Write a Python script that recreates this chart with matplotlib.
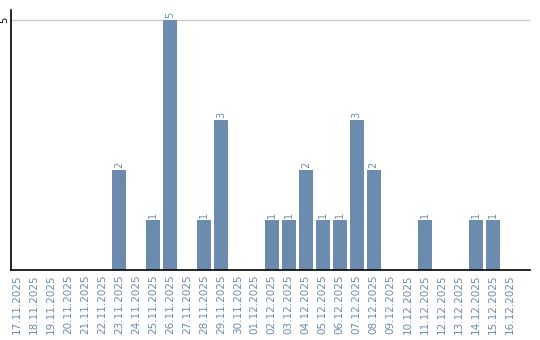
import matplotlib
matplotlib.use('Agg')
import matplotlib.pyplot as plt

dates = ['17.11.2025', '18.11.2025', '19.11.2025', '20.11.2025', '21.11.2025',
         '22.11.2025', '23.11.2025', '24.11.2025', '25.11.2025', '26.11.2025',
         '27.11.2025', '28.11.2025', '29.11.2025', '30.11.2025', '01.12.2025',
         '02.12.2025', '03.12.2025', '04.12.2025', '05.12.2025', '06.12.2025',
         '07.12.2025', '08.12.2025', '09.12.2025', '10.12.2025', '11.12.2025',
         '12.12.2025', '13.12.2025', '14.12.2025', '15.12.2025', '16.12.2025']
counts = [0, 0, 0, 0, 0, 0, 2, 0, 1, 5, 0, 1, 3, 0, 0,
          1, 1, 2, 1, 1, 3, 2, 0, 0, 1, 0, 0, 1, 1, 0]

bar_color = '#6b8cae'

fig = plt.figure(figsize=(5.4, 3.4), dpi=100)
ax = fig.add_axes([0.0204, 0.2059, 0.9611, 0.7647])

x = list(range(len(dates)))
ax.bar(x, counts, width=0.82, color=bar_color, zorder=2)

# value labels on bars (only non-zero)
for xi, c in zip(x, counts):
    if c > 0:
        ax.text(xi, c + 0.04, str(c), rotation=90, ha='center', va='bottom',
                fontsize=7, color=bar_color)

ax.axhline(5, color='#cccccc', linewidth=1, zorder=1)

ax.set_xlim(-0.35, 30.2)
ax.set_ylim(0, 5.2)
ax.set_xticks(x)
ax.set_xticklabels(dates, rotation=90, fontsize=7.5, color=bar_color)
ax.set_yticks([5])
ax.set_yticklabels(['5'], rotation=90, fontsize=7, va='center')
ax.tick_params(axis='both', length=0, pad=3)
ax.tick_params(axis='y', pad=1)

ax.spines['top'].set_visible(False)
ax.spines['right'].set_visible(False)
ax.spines['left'].set_color('black')
ax.spines['bottom'].set_color('black')
ax.spines['left'].set_linewidth(1.2)
ax.spines['bottom'].set_linewidth(1.2)

fig.savefig('out.png', dpi=100)
